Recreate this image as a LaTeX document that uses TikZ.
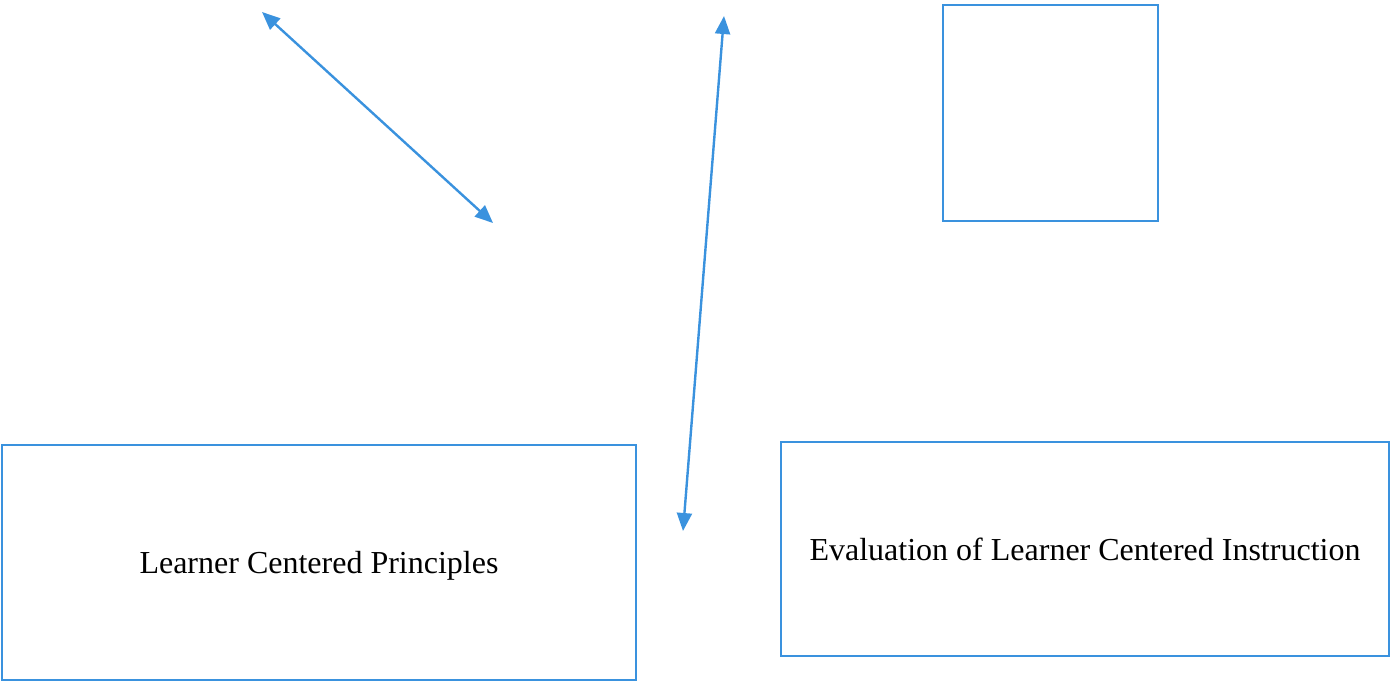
\documentclass[tikz,border=0pt]{standalone}
\usepackage{fontspec}
\setmainfont{Liberation Serif}
\usetikzlibrary{arrows.meta}
\definecolor{wordblue}{RGB}{58,146,222}
\tikzset{
    >={Triangle[length=9pt,width=7.5pt]},
    frame/.style={draw=wordblue,line width=1.2pt,rectangle,inner sep=0pt,font=\fontsize{16}{19}\selectfont},
    link/.style={color=wordblue,line width=1.2pt,<->},
}
\begin{document}
\begin{tikzpicture}[x=0.5pt,y=-0.5pt]
    \useasboundingbox (0,0) rectangle (1390,681);

    \node[frame,minimum width=215pt*0.5,minimum height=216pt*0.5] (blank) at (1050.5,113) {};
    \node[frame,minimum width=634pt*0.5,minimum height=235pt*0.5,text depth=-5pt] (principles) at (319,562.5) {Learner Centered Principles};
    \node[frame,minimum width=608pt*0.5,minimum height=214pt*0.5,text depth=-1pt] (evaluation) at (1085,549) {Evaluation of Learner Centered Instruction};

    \coordinate (a1) at (262,12);
    \coordinate (a2) at (493,223);
    \coordinate (b1) at (724,16);
    \coordinate (b2) at (683,531);

    \path[link] (a1) edge (a2)
                (b1) edge (b2);
\end{tikzpicture}
\end{document}
